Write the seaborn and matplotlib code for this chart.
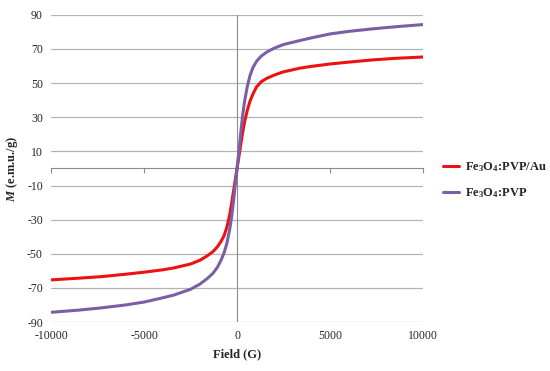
import matplotlib
matplotlib.use('Agg')
import matplotlib.pyplot as plt
import numpy as np
import pandas as pd
import seaborn as sns

# magnetisation loops
field = [-10000, -8500, -7300, -6000, -5000, -4000, -3400, -2500, -2000, -1600, -1300, -1050, -850, -700,
         -550, -400, -300, -200, -100, 0, 100, 200, 300, 400, 550, 700, 850, 1050, 1300, 1600, 2000,
         2500, 3400, 4000, 5000, 6000, 7300, 8500, 10000]
m_pvp_au = [-65.3, -64.3, -63.4, -62.0, -60.8, -59.4, -58.3, -56.0, -53.8, -51.2, -48.8, -45.8, -42.5, -39.5,
            -34.5, -27.5, -21.0, -14.0, -7.0, 0.0, 7.0, 14.0, 21.0, 27.0, 34.0, 39.5, 43.5, 47.8, 50.8, 52.8, 54.7,
            56.6, 58.8, 59.8, 61.2, 62.3, 63.6, 64.5, 65.3]
m_pvp = [-84.3, -83.0, -81.7, -80.0, -78.3, -75.8, -74.2, -70.8, -67.8, -64.5, -61.5, -57.8, -53.5, -49.5,
         -44.0, -36.0, -29.0, -20.0, -10.0, 0.0, 10.0, 21.0, 31.0, 39.0, 48.0, 54.5, 59.0, 62.8, 65.8, 68.2, 70.5,
         72.6, 75.0, 76.5, 78.8, 80.3, 81.8, 83.0, 84.3]
labels = ['Fe$_3$O$_4$:PVP/Au', 'Fe$_3$O$_4$:PVP']
colors = ['#ee1111', '#7b5fa6']

sns.set_style('white')
plt.rcParams['font.family'] = ['Liberation Serif', 'DejaVu Serif']
plt.rcParams['axes.unicode_minus'] = False
plt.rcParams['mathtext.fontset'] = 'custom'
plt.rcParams['mathtext.rm'] = 'Liberation Serif:bold'
plt.rcParams['mathtext.it'] = 'Liberation Serif:italic:bold'
plt.rcParams['mathtext.bf'] = 'Liberation Serif:bold'

df = pd.DataFrame({
    'Field': field * 2,
    'M': m_pvp_au + m_pvp,
    'Sample': [labels[0]] * len(field) + [labels[1]] * len(field),
})

fig = plt.figure(figsize=(5.5, 3.71), dpi=100)
ax = fig.add_axes([0.093, 0.132, 0.676, 0.828])

ax.set_yticks(np.arange(-90, 91, 20))
for yv in np.arange(-90, 91, 20):
    ax.axhline(yv, color='#b4b4b4', linewidth=0.9, zorder=0)
ax.axvline(0, color='#8c8c8c', linewidth=0.8, zorder=1)

sns.lineplot(data=df, x='Field', y='M', hue='Sample', palette=colors, sort=False,
             estimator=None, linewidth=2.2, ax=ax)

ax.set_xlim(-10000, 10000)
ax.set_ylim(-90, 90)
ax.set_xticks(np.arange(-10000, 10001, 5000))
for s in ax.spines.values():
    s.set_visible(False)
ax.tick_params(length=0, labelsize=8.5, pad=6)

# horizontal axis line crossing at M = 0 with its tick marks
sec = ax.secondary_xaxis(0.5)
sec.set_alignment('bottom')
sec.set_xticks(np.arange(-10000, 10001, 5000))
sec.tick_params(direction='out', length=3.5, width=0.8, color='#8c8c8c',
                labelbottom=False, labeltop=False)
for s in sec.spines.values():
    s.set_color('#8c8c8c')
    s.set_linewidth(0.8)

ax.set_xlabel('Field (G)', fontsize=9, fontweight='bold', labelpad=4)
ax.set_ylabel('$M$ (e.m.u./g)', fontsize=9, fontweight='bold', labelpad=5)

ax.legend(loc='center left', bbox_to_anchor=(1.0, 0.461), frameon=False, borderaxespad=1.2,
          handlelength=1.3, handletextpad=0.5, labelspacing=1.0,
          prop={'weight': 'bold', 'size': 9})

plt.savefig('out.png', dpi=100)
